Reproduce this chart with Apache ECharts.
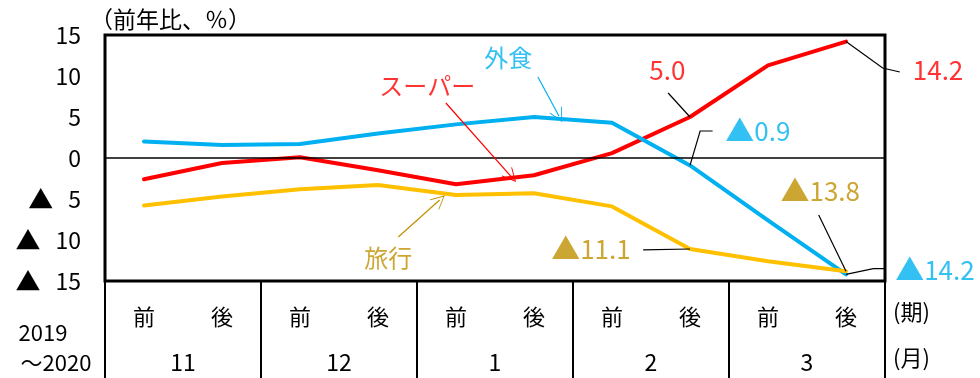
<!DOCTYPE html>
<html>
<head>
<meta charset="utf-8">
<script src="https://cdn.jsdelivr.net/npm/echarts@6/dist/echarts.min.js"></script>
<style>
  html, body { margin: 0; padding: 0; background: #fff; }
  #chart { width: 980px; height: 378px; }
</style>
</head>
<body>
<div id="chart"></div>
<script>
// Half-month periods (前 = first half, 後 = second half) and months, Nov 2019 - Mar 2020
const halves = ['前', '後', '前', '後', '前', '後', '前', '後', '前', '後'];
const months = ['11', '12', '1', '2', '3'];

// Year-on-year change, %
const supermarket = [-2.6, -0.6, 0.1, -1.5, -3.2, -2.1, 0.6, 5.0, 11.3, 14.2];
const dining      = [2.0, 1.6, 1.7, 3.0, 4.1, 5.0, 4.3, -0.9, -7.6, -14.2];
const travel      = [-5.8, -4.7, -3.8, -3.3, -4.5, -4.3, -5.9, -11.1, -12.6, -13.8];

const seriesNames = { supermarket: 'スーパー', dining: '外食', travel: '旅行' };

const RED = '#FF0000', BLUE = '#00B0F0', YELLOW = '#FFC000', GOLD = '#BF9000';
const FONT = '"Noto Sans CJK JP", "Noto Sans", sans-serif';

// negative values are written with a leading ▲ (rich-text token "t")
const fmt = v => (v < 0 ? '{t|▲}' + Math.abs(v).toFixed(1) : v.toFixed(1));
const tickFmt = v => (v < 0 ? '{t|▲}{n|' + Math.abs(v) + '}' : '{n|' + v + '}');

// value-label callouts: which series/point, where the text sits, leader path (text side first)
const callouts = [
  { values: supermarket, i: 7, color: RED,  text: [6.71, 10.7],    via: [[6.72, 7.93]] },
  { values: supermarket, i: 9, color: RED,  text: [10.18, 10.7],   via: [[9.69, 10.49], [9.47, 10.98]] },
  { values: dining,      i: 7, color: BLUE, text: [7.87, 3.3],     via: [[7.29, 3.29], [7.13, 3.29]] },
  { values: dining,      i: 9, color: BLUE, text: [10.14, -13.65], via: [[9.5, -13.5], [9.35, -13.5]] },
  { values: travel,      i: 7, color: GOLD, text: [5.73, -11.1],   via: [[6.40, -11.2]] },
  { values: travel,      i: 9, color: GOLD, text: [8.67, -4.0],    via: [[8.65, -6.95]] }
];

// series-name labels with pointer arrows
const nameTags = [
  { name: seriesNames.dining,      color: BLUE, text: [4.67, 12.2],  from: [5.05, 9.88],  to: [5.32, 5.12] },
  { name: seriesNames.supermarket, color: RED,  text: [3.63, 8.8],   from: [3.87, 6.71],  to: [4.71, -2.3] },
  { name: seriesNames.travel,      color: GOLD, text: [3.13, -12.2], from: [3.26, -9.63], to: [3.79, -5.12] }
];

const chevron = 'path://M10,0 L20,18 L18.6,18 L10,2.6 L1.4,18 L0,18 Z';

function lineSeries(name, data, color, z) {
  return {
    name, type: 'line', data, xAxisIndex: 0, yAxisIndex: 0,
    symbol: 'none', smooth: false, z,
    lineStyle: { color, width: 4, cap: 'round', join: 'round' }
  };
}

const leaderLines = callouts.map(c => ({
  coords: c.via.concat([[c.i, c.values[c.i]]])
}));

const textPoints = callouts.map(c => ({
  value: c.text,
  label: {
    formatter: fmt(c.values[c.i]), color: c.color, fontSize: 26,
    rich: { t: { fontSize: 29, color: c.color, fontFamily: FONT, verticalAlign: 'middle' } }
  }
})).concat(nameTags.map(t => ({
  value: t.text,
  label: { formatter: t.name, color: t.color, fontSize: 24 }
})));

const chart = echarts.init(document.getElementById('chart'));
chart.setOption({
  animation: false,
  backgroundColor: '#fff',
  textStyle: { fontFamily: FONT },
  grid: {
    left: 105, right: 95, top: 35, bottom: 97,
    show: true, borderColor: '#000', borderWidth: 3, backgroundColor: 'transparent'
  },
  xAxis: [
    {
      type: 'category', data: halves, position: 'bottom', boundaryGap: true,
      axisLine: { show: false }, axisTick: { show: false },
      axisLabel: { margin: 25, fontSize: 22, color: '#000', fontFamily: FONT }
    },
    {
      type: 'category', data: months, position: 'bottom', boundaryGap: true,
      axisLine: { show: false },
      axisTick: { show: true, length: 98, inside: false, lineStyle: { color: '#000', width: 2 } },
      axisLabel: { margin: 70, fontSize: 23, color: '#000', fontFamily: FONT }
    },
    { type: 'value', min: -0.5, max: 9.5, show: false }
  ],
  yAxis: {
    type: 'value', min: -15, max: 15, interval: 5,
    axisLine: { show: false }, axisTick: { show: false }, splitLine: { show: false },
    axisLabel: {
      formatter: tickFmt, color: '#000', margin: 24, fontFamily: FONT,
      rich: {
        t: { fontSize: 25, color: '#000', fontFamily: FONT, padding: [0, 15, 0, 0], verticalAlign: 'middle' },
        n: { fontSize: 23, color: '#000', fontFamily: FONT, verticalAlign: 'middle' }
      }
    }
  },
  series: [
    Object.assign(lineSeries(seriesNames.supermarket, supermarket, RED, 3), {
      markLine: {
        silent: true, symbol: 'none', label: { show: false },
        lineStyle: { color: '#000', width: 1.5, type: 'solid' },
        data: [{ yAxis: 0 }]
      }
    }),
    lineSeries(seriesNames.dining, dining, BLUE, 4),
    lineSeries(seriesNames.travel, travel, YELLOW, 5),
    {
      type: 'lines', coordinateSystem: 'cartesian2d', xAxisIndex: 2, yAxisIndex: 0,
      polyline: true, clip: false, z: 8, silent: true,
      lineStyle: { color: '#000', width: 1.2, opacity: 1 },
      data: leaderLines
    },
    {
      type: 'lines', coordinateSystem: 'cartesian2d', xAxisIndex: 2, yAxisIndex: 0,
      polyline: false, clip: false, z: 8, silent: true,
      symbol: ['none', chevron], symbolSize: [10, 14],
      data: nameTags.map(t => ({
        coords: [t.from, t.to],
        lineStyle: { color: t.color, width: 1.2, opacity: 1 },
        itemStyle: { color: t.color }
      }))
    },
    {
      type: 'scatter', xAxisIndex: 2, yAxisIndex: 0, symbolSize: 0, clip: false, z: 9, silent: true,
      label: { show: true, position: 'inside', fontFamily: FONT },
      data: textPoints
    }
  ],
  graphic: [
    { type: 'text', left: 90, top: 8, style: { text: '（前年比、％）', font: '23px ' + FONT, fill: '#000' } },
    { type: 'text', x: 43, y: 333, style: { text: '2019', font: '22px ' + FONT, fill: '#000', align: 'center', verticalAlign: 'middle' } },
    { type: 'text', x: 56, y: 363, style: { text: '～2020', font: '22px ' + FONT, fill: '#000', align: 'center', verticalAlign: 'middle' } },
    { type: 'text', x: 893, y: 312, style: { text: '(期)', font: '22px ' + FONT, fill: '#000', align: 'left', verticalAlign: 'middle' } },
    { type: 'text', x: 893, y: 358, style: { text: '(月)', font: '22px ' + FONT, fill: '#000', align: 'left', verticalAlign: 'middle' } }
  ]
});
</script>
</body>
</html>
